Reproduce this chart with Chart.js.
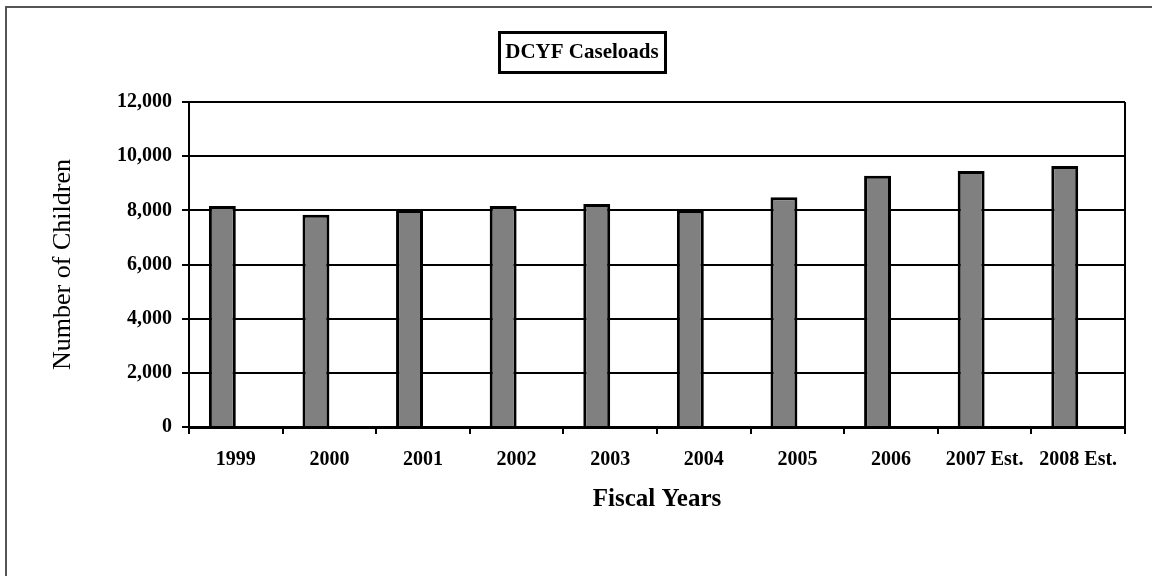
<!DOCTYPE html>
<html>
<head>
<meta charset="utf-8">
<title>DCYF Caseloads</title>
<script src="https://cdn.jsdelivr.net/npm/chart.js@4.4.1/dist/chart.umd.min.js"></script>
<style>
  body { margin: 0; background: #fff; }
  #wrap { position: relative; width: 1152px; height: 576px; overflow: hidden; }
  #frame { position: absolute; left: 5px; top: 6px; width: 1200px; height: 600px; border: 2px solid #555; }
  #chart { position: absolute; left: 0; top: 0; }
</style>
</head>
<body>
<div id="wrap">
  <div id="frame"></div>
  <canvas id="chart" width="1152" height="576"></canvas>
</div>
<script>
// data
const chartTitle = 'DCYF Caseloads';
const fiscalYears = ['1999', '2000', '2001', '2002', '2003', '2004', '2005', '2006', '2007 Est.', '2008 Est.'];
const caseloads = [8160, 7840, 8010, 8160, 8230, 7990, 8480, 9280, 9450, 9640];
// the original has a second, empty series next to the bars
const emptySeries = [null, null, null, null, null, null, null, null, null, null];
const yTicks = [0, 2000, 4000, 6000, 8000, 10000, 12000];

Chart.defaults.font.family = '"Liberation Serif", "Times New Roman", serif';
Chart.defaults.color = '#000';

// boxed title drawn on top of the canvas
const titleBox = {
    id: 'titleBox',
    afterDraw(chart) {
        const ctx = chart.ctx;
        ctx.save();
        ctx.lineWidth = 3;
        ctx.strokeStyle = '#000';
        ctx.strokeRect(499.5, 32.5, 166, 40);
        ctx.font = 'bold 21px "Liberation Serif"';
        ctx.fillStyle = '#000';
        ctx.textAlign = 'center';
        ctx.textBaseline = 'alphabetic';
        ctx.fillText(chartTitle, 582, 58);
        ctx.restore();
    }
};

// right-hand edge of the plot area
const plotEdge = {
    id: 'plotEdge',
    afterDraw(chart) {
        const { ctx, chartArea } = chart;
        ctx.save();
        ctx.lineWidth = 2;
        ctx.strokeStyle = '#000';
        ctx.beginPath();
        ctx.moveTo(chartArea.right, chartArea.top);
        ctx.lineTo(chartArea.right, chartArea.bottom);
        ctx.stroke();
        ctx.restore();
    }
};

const ctx = document.getElementById('chart');
new Chart(ctx, {
    type: 'bar',
    data: {
        labels: fiscalYears,
        datasets: [{
            label: 'Caseloads',
            data: caseloads,
            backgroundColor: '#808080',
            borderColor: '#000',
            borderWidth: 3
        }, {
            label: '',
            data: emptySeries
        }]
    },
    options: {
        responsive: false,
        animation: false,
        layout: {
            padding: { top: 102, right: 27, left: 0, bottom: 0 }
        },
        datasets: {
            bar: { categoryPercentage: 0.575, barPercentage: 1 }
        },
        scales: {
            x: {
                afterFit: (scale) => { scale.height = 149; },
                grid: {
                    offset: true,
                    drawOnChartArea: false,
                    drawTicks: true,
                    tickLength: 7,
                    color: '#000',
                    lineWidth: 2
                },
                border: { color: '#000', width: 3 },
                ticks: {
                    padding: 14,
                    maxRotation: 0,
                    font: { size: 20, weight: 'bold' }
                },
                title: {
                    display: true,
                    text: 'Fiscal Years',
                    font: { size: 25, weight: 'bold' },
                    padding: { top: 0, bottom: 61 }
                }
            },
            y: {
                min: 0,
                max: 12000,
                afterFit: (scale) => { scale.width = 189; },
                afterBuildTicks: (scale) => { scale.ticks = yTicks.map(v => ({ value: v })); },
                grid: {
                    color: '#000',
                    lineWidth: 2,
                    tickLength: 7
                },
                border: { color: '#000', width: 2 },
                ticks: {
                    padding: 10,
                    font: { size: 20, weight: 'bold' },
                    callback: (v) => v.toLocaleString('en-US')
                },
                title: {
                    display: true,
                    text: 'Number of Children',
                    font: { size: 26, weight: 'normal' },
                    padding: { top: 48, bottom: 0 }
                }
            }
        },
        plugins: {
            legend: { display: false },
            tooltip: { enabled: false },
            title: { display: false }
        }
    },
    plugins: [titleBox, plotEdge]
});
</script>
</body>
</html>
